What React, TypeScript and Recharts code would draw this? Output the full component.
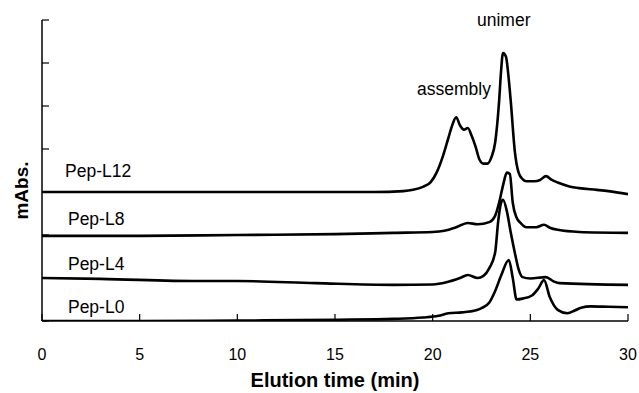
import React from 'react';
import { ComposedChart, Line, XAxis, YAxis, ReferenceDot, Label } from 'recharts';

const xTicks = [0, 5, 10, 15, 20, 25, 30];
const yTicks = [0, 1, 2, 3, 4, 5, 6, 7];

const pepL12 = [
  { t: 0, v: 3.0 }, { t: 10, v: 3.0 }, { t: 17, v: 3.0 }, { t: 18.5, v: 3.02 },
  { t: 19.0, v: 3.05 }, { t: 19.5, v: 3.12 }, { t: 19.9, v: 3.23 }, { t: 20.2, v: 3.45 },
  { t: 20.5, v: 3.8 }, { t: 20.8, v: 4.25 }, { t: 21.0, v: 4.55 }, { t: 21.2, v: 4.74 },
  { t: 21.4, v: 4.55 }, { t: 21.6, v: 4.45 }, { t: 21.8, v: 4.49 }, { t: 22.0, v: 4.3 },
  { t: 22.2, v: 4.05 }, { t: 22.4, v: 3.75 }, { t: 22.6, v: 3.66 }, { t: 22.8, v: 3.66 },
  { t: 23.0, v: 3.8 }, { t: 23.2, v: 4.15 }, { t: 23.4, v: 5.1 }, { t: 23.5, v: 5.8 },
  { t: 23.6, v: 6.23 }, { t: 23.75, v: 6.15 }, { t: 23.9, v: 5.6 }, { t: 24.0, v: 5.1 },
  { t: 24.2, v: 3.97 }, { t: 24.4, v: 3.45 }, { t: 24.6, v: 3.3 }, { t: 24.8, v: 3.25 },
  { t: 25.2, v: 3.25 }, { t: 25.5, v: 3.28 }, { t: 25.8, v: 3.37 }, { t: 26.1, v: 3.28 },
  { t: 26.4, v: 3.22 }, { t: 27.0, v: 3.13 }, { t: 27.5, v: 3.09 }, { t: 28.4, v: 3.05 },
  { t: 29.0, v: 3.02 }, { t: 30, v: 2.95 },
];

const pepL8 = [
  { t: 0, v: 1.98 }, { t: 5, v: 1.98 }, { t: 10, v: 2.0 }, { t: 15, v: 2.02 },
  { t: 18, v: 2.05 }, { t: 20, v: 2.07 }, { t: 20.6, v: 2.1 }, { t: 21.2, v: 2.18 },
  { t: 21.8, v: 2.28 }, { t: 22.3, v: 2.25 }, { t: 22.9, v: 2.3 }, { t: 23.2, v: 2.45 },
  { t: 23.4, v: 2.75 }, { t: 23.6, v: 3.15 }, { t: 23.8, v: 3.45 }, { t: 23.95, v: 3.42 },
  { t: 24.1, v: 2.75 }, { t: 24.3, v: 2.4 }, { t: 24.5, v: 2.28 }, { t: 24.8, v: 2.18 },
  { t: 25.3, v: 2.18 }, { t: 25.7, v: 2.24 }, { t: 26.0, v: 2.17 }, { t: 26.4, v: 2.12 },
  { t: 27.5, v: 2.07 }, { t: 30, v: 2.05 },
];

const pepL4 = [
  { t: 0, v: 1.0 }, { t: 3, v: 0.98 }, { t: 8, v: 0.93 }, { t: 10, v: 0.93 },
  { t: 14, v: 0.88 }, { t: 18, v: 0.84 }, { t: 20, v: 0.85 }, { t: 20.7, v: 0.9 },
  { t: 21.4, v: 1.0 }, { t: 21.8, v: 1.07 }, { t: 22.3, v: 1.0 }, { t: 22.6, v: 1.05 },
  { t: 22.9, v: 1.23 }, { t: 23.2, v: 1.6 }, { t: 23.35, v: 2.3 }, { t: 23.5, v: 2.75 },
  { t: 23.6, v: 2.82 }, { t: 23.8, v: 2.55 }, { t: 24.0, v: 2.05 }, { t: 24.2, v: 1.6 },
  { t: 24.4, v: 1.2 }, { t: 24.6, v: 1.02 }, { t: 25.0, v: 0.99 }, { t: 25.8, v: 1.02 },
  { t: 26.2, v: 0.92 }, { t: 26.5, v: 0.88 }, { t: 30, v: 0.84 },
];

const pepL0 = [
  { t: 0, v: 0.0 }, { t: 5, v: 0.0 }, { t: 10, v: 0.01 }, { t: 15, v: 0.03 },
  { t: 18, v: 0.05 }, { t: 19.5, v: 0.08 }, { t: 20.3, v: 0.12 }, { t: 20.8, v: 0.18 },
  { t: 21.5, v: 0.2 }, { t: 21.9, v: 0.22 }, { t: 22.5, v: 0.3 }, { t: 22.9, v: 0.43 },
  { t: 23.2, v: 0.7 }, { t: 23.5, v: 1.05 }, { t: 23.9, v: 1.42 }, { t: 24.1, v: 1.0 },
  { t: 24.3, v: 0.5 }, { t: 24.6, v: 0.52 }, { t: 25.1, v: 0.6 }, { t: 25.4, v: 0.75 },
  { t: 25.7, v: 0.95 }, { t: 26.0, v: 0.55 }, { t: 26.4, v: 0.26 }, { t: 26.9, v: 0.18 },
  { t: 27.3, v: 0.25 }, { t: 27.6, v: 0.31 }, { t: 28.1, v: 0.34 }, { t: 29, v: 0.33 },
  { t: 30, v: 0.32 },
];

const series = [pepL12, pepL8, pepL4, pepL0];

const annotations = [
  { text: 'Pep-L12', t: 1.18, v: 3.35 },
  { text: 'Pep-L8', t: 1.33, v: 2.23 },
  { text: 'Pep-L4', t: 1.33, v: 1.19 },
  { text: 'Pep-L0', t: 1.33, v: 0.19 },
  { text: 'assembly', t: 19.2, v: 5.26 },
  { text: 'unimer', t: 22.27, v: 6.86 },
];

const FONT = '"Liberation Sans", Arial, sans-serif';

const XTick = (p: any) => (
  <g>
    <line x1={p.x} x2={p.x} y1={p.y} y2={p.y - 7} stroke="#000" strokeWidth={1.2} />
    <text x={p.x} y={p.y + 39} textAnchor="middle" fontSize={16} fontFamily={FONT} fill="#000">
      {p.payload.value}
    </text>
  </g>
);

const YTick = (p: any) => (
  <line x1={p.x} x2={p.x + 7} y1={p.y} y2={p.y} stroke="#000" strokeWidth={1.2} />
);

export default function App() {
  return (
    <div style={{ position: 'absolute', left: 0, top: 0, background: '#fff' }}>
      <ComposedChart width={639} height={393} margin={{ top: 20, right: 11, bottom: 0, left: 0 }}>
        <XAxis
          type="number"
          dataKey="t"
          domain={[0, 30]}
          ticks={xTicks}
          height={72}
          tickSize={0}
          tickMargin={0}
          tickLine={false}
          tick={<XTick />}
          axisLine={{ stroke: '#000', strokeWidth: 1.5 }}
          allowDataOverflow
        >
          <Label
            content={(props: any) => {
              const vb = props.viewBox;
              return (
                <text
                  x={vb.x + vb.width / 2}
                  y={vb.y + 66}
                  textAnchor="middle"
                  fontSize={20}
                  fontWeight="bold"
                  fontFamily={FONT}
                  fill="#000"
                >
                  Elution time (min)
                </text>
              );
            }}
          />
        </XAxis>
        <YAxis
          type="number"
          dataKey="v"
          domain={[0, 7]}
          ticks={yTicks}
          width={42}
          tickSize={0}
          tickMargin={0}
          tickLine={false}
          tick={<YTick />}
          axisLine={{ stroke: '#000', strokeWidth: 1.5 }}
          allowDataOverflow
        >
          <Label
            content={(props: any) => {
              const vb = props.viewBox;
              const cx = vb.x + 21;
              const cy = vb.y + vb.height / 2 + 20;
              return (
                <text
                  x={cx}
                  y={cy}
                  transform={`rotate(-90 ${cx} ${cy})`}
                  textAnchor="middle"
                  dominantBaseline="central"
                  fontSize={19}
                  fontWeight="bold"
                  fontFamily={FONT}
                  fill="#000"
                >
                  mAbs.
                </text>
              );
            }}
          />
        </YAxis>
        {series.map((d, i) => (
          <Line
            key={i}
            data={d}
            dataKey="v"
            type="monotone"
            stroke="#000"
            strokeWidth={2.6}
            dot={false}
            isAnimationActive={false}
          />
        ))}
        {annotations.map((a) => (
          <ReferenceDot
            key={a.text}
            x={a.t}
            y={a.v}
            r={0}
            ifOverflow="visible"
            shape={(p: any) => (
              <text x={p.cx} y={p.cy} fontSize={17.5} fontFamily={FONT} fill="#000">
                {a.text}
              </text>
            )}
          />
        ))}
      </ComposedChart>
    </div>
  );
}
